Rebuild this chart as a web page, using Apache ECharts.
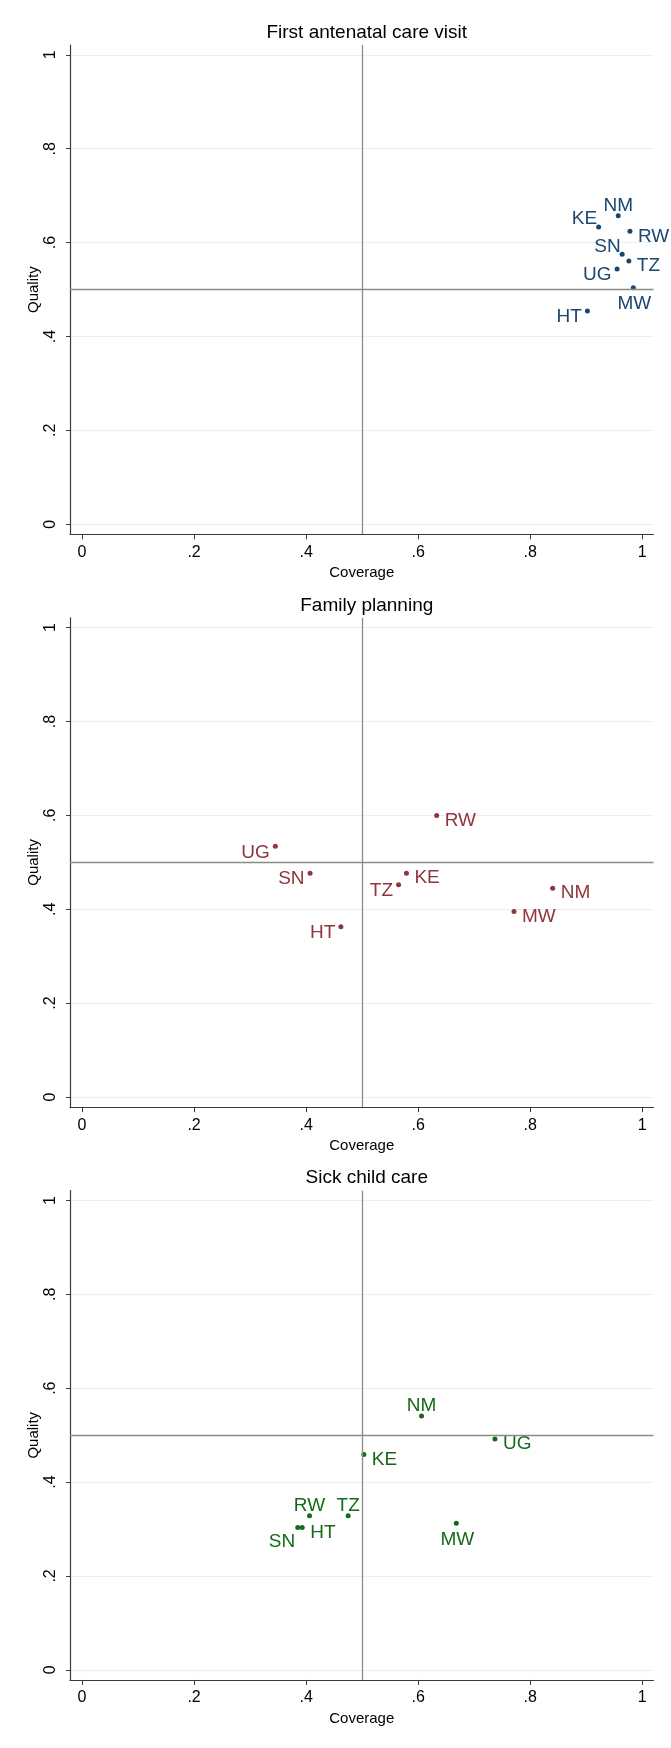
<!DOCTYPE html>
<html>
<head>
<meta charset="utf-8">
<title>Coverage and quality</title>
<script src="https://cdn.jsdelivr.net/npm/echarts@6.0.0/dist/echarts.min.js"></script>
<style>
  html, body { margin: 0; padding: 0; background: #fff; }
  #chart { width: 671px; height: 1748px; }
</style>
</head>
<body>
<div id="chart"></div>
<script>
const countries = ['HT', 'KE', 'MW', 'NM', 'RW', 'SN', 'TZ', 'UG'];
const titles = ['First antenatal care visit', 'Family planning', 'Sick child care'];
const tickValues = [0, 0.2, 0.4, 0.6, 0.8, 1];

// first antenatal care visit
const ancCoverage = [0.902, 0.922, 0.984, 0.957, 0.978, 0.964, 0.976, 0.955];
const ancQuality = [0.454, 0.633, 0.504, 0.657, 0.624, 0.575, 0.561, 0.544];

// family planning
const fpCoverage = [0.462, 0.579, 0.771, 0.840, 0.633, 0.407, 0.565, 0.345];
const fpQuality = [0.363, 0.477, 0.395, 0.445, 0.600, 0.477, 0.452, 0.534];

// sick child care
const sccCoverage = [0.393, 0.503, 0.668, 0.606, 0.406, 0.385, 0.475, 0.737];
const sccQuality = [0.303, 0.459, 0.312, 0.541, 0.328, 0.303, 0.328, 0.492];

// marker label clock positions, like stata's mlabvposition
const ancLabelPos = [9, 11, 6, 12, 3, 11, 3, 9];
const fpLabelPos = [9, 3, 3, 3, 3, 9, 9, 9];
const sccLabelPos = [3, 3, 6, 12, 12, 7, 12, 3];

const panels = [
    { coverage: ancCoverage, quality: ancQuality, pos: ancLabelPos, color: '#1a476f' },
    { coverage: fpCoverage, quality: fpQuality, pos: fpLabelPos, color: '#90353b' },
    { coverage: sccCoverage, quality: sccQuality, pos: sccLabelPos, color: '#17691a' }
];

const font = '"Liberation Sans", Arial, Helvetica, sans-serif';
const clock = {
    12: { align: 'center', offset: [0, -10] },
    6: { align: 'center', offset: [1, 16] },
    3: { align: 'left', offset: [8, 5] },
    9: { align: 'right', offset: [-5.5, 6] },
    11: { align: 'right', offset: [-1.5, -8] },
    7: { align: 'right', offset: [-2.5, 14] }
};

const panelH = 572.8;
const fmt = (v) => (v === 0 ? '0' : v === 1 ? '1' : String(+v.toFixed(1)).replace(/^0/, ''));

const myChart = echarts.init(document.getElementById('chart'), null, { renderer: 'canvas' });

const option = {
    backgroundColor: '#fff',
    animation: false,
    textStyle: { fontFamily: font },
    title: titles.map((t, i) => ({
        text: t,
        left: 361.75,
        textAlign: 'center',
        top: 18 + i * panelH,
        textStyle: { fontFamily: font, fontSize: 19, fontWeight: 'normal', color: '#000' }
    })),
    grid: panels.map((p, i) => ({
        left: 70,
        width: 583.5,
        top: 45 + i * panelH,
        height: 489.3,
        containLabel: false
    })),
    xAxis: panels.map((p, i) => ({
        type: 'value',
        gridIndex: i,
        min: -0.0215,
        max: 1.02,
        name: 'Coverage',
        nameLocation: 'middle',
        nameGap: 31,
        nameMoveOverlap: false,
        nameTextStyle: { fontFamily: font, fontSize: 15, color: '#000' },
        axisLine: { show: true, onZero: false, lineStyle: { color: '#3a3a3a', width: 1.2 } },
        axisTick: { show: true, length: 5, customValues: tickValues, lineStyle: { color: '#3a3a3a' } },
        axisLabel: { customValues: tickValues, formatter: fmt, margin: 10, fontSize: 16, color: '#000', fontFamily: font },
        splitLine: { show: false }
    })),
    yAxis: panels.map((p, i) => ({
        type: 'value',
        gridIndex: i,
        min: -0.0215,
        max: 1.021,
        name: 'Quality',
        nameLocation: 'middle',
        nameGap: 29,
        nameMoveOverlap: false,
        nameTextStyle: { fontFamily: font, fontSize: 15, color: '#000' },
        axisLine: { show: true, onZero: false, lineStyle: { color: '#3a3a3a', width: 1.2 } },
        axisTick: { show: true, length: 4, customValues: tickValues, lineStyle: { color: '#3a3a3a' } },
        axisLabel: { customValues: tickValues, formatter: fmt, rotate: 90, margin: 11, fontSize: 16, color: '#000', fontFamily: font },
        splitLine: { show: true, lineStyle: { color: '#e9f0f1', width: 1 } }
    })),
    series: panels.map((p, i) => ({
        type: 'scatter',
        xAxisIndex: i,
        yAxisIndex: i,
        symbol: 'circle',
        symbolSize: 5,
        itemStyle: { color: p.color, opacity: 1 },
        data: countries.map((c, j) => ({
            name: c,
            value: [p.coverage[j], p.quality[j]],
            label: {
                show: true,
                formatter: c,
                position: 'inside',
                verticalAlign: 'middle',
                align: clock[p.pos[j]].align,
                offset: clock[p.pos[j]].offset,
                color: p.color,
                opacity: 1,
                fontSize: 19,
                fontFamily: font
            }
        })),
        markLine: {
            silent: true,
            symbol: 'none',
            label: { show: false },
            lineStyle: { color: '#8a8a8a', width: 1.3, type: 'solid', opacity: 1 },
            data: [{ xAxis: 0.5 }, { yAxis: 0.5 }]
        },
        z: 3
    }))
};

myChart.setOption(option);
</script>
</body>
</html>
